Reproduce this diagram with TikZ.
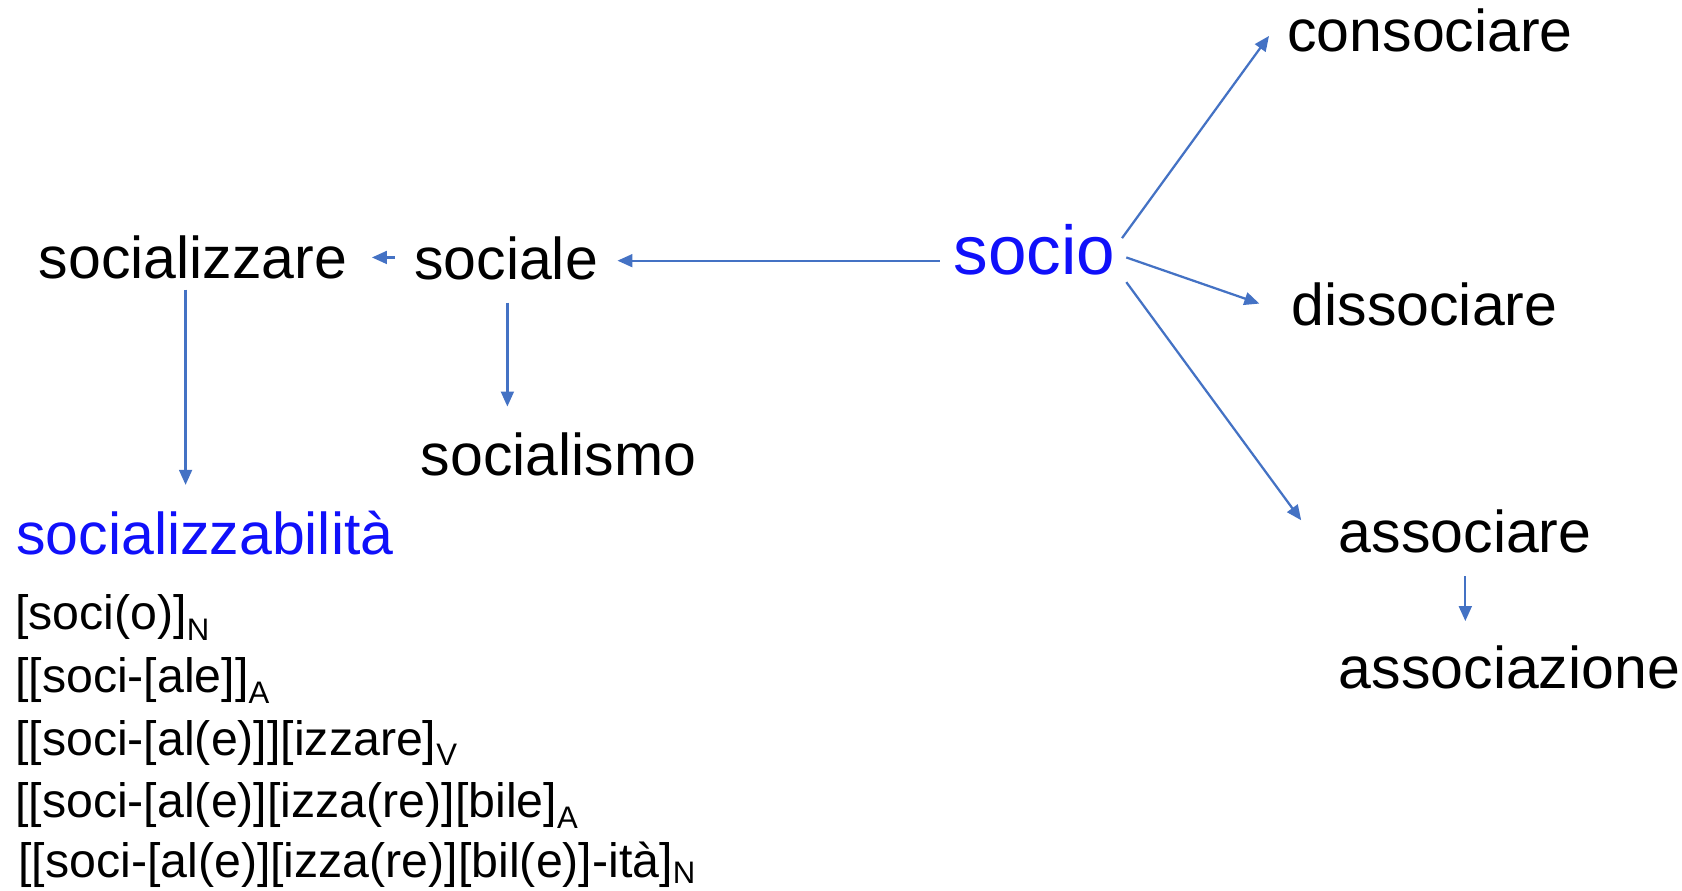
\documentclass[tikz,border=0pt]{standalone}
\usepackage{fontspec}
\setmainfont{Liberation Sans}
\usetikzlibrary{arrows.meta}
\definecolor{arrblue}{HTML}{4472C4}
\definecolor{txtblue}{RGB}{16,16,250}
\newcommand{\sbs}[1]{\raisebox{-10pt}{\fontsize{29}{30}\selectfont #1}}
\tikzset{
  word/.style={anchor=base west, inner sep=0pt, font=\fontsize{55}{60}\selectfont},
  bigword/.style={anchor=base west, inner sep=0pt, font=\fontsize{64.5}{70}\selectfont, text=txtblue},
  formula/.style={anchor=base west, inner sep=0pt, font=\fontsize{45}{50}\selectfont},
  arr/.style={draw=arrblue, line width=2.1pt, -{Triangle[length=14pt,width=12pt]}}
}
\begin{document}
\begin{tikzpicture}[x=1pt,y=-1pt]
\useasboundingbox (0,0) rectangle (1568,830.6);
% words
\node[bigword] (socio) at (889,256) {socio};
\node[word] (sociale) at (386,261) {sociale};
\node[word] (socializzare) at (36,260) {socializzare};
\node[word] (consociare) at (1200,48) {consociare};
\node[word] (dissociare) at (1204,303) {dissociare};
\node[word] (socialismo) at (392,443) {socialismo};
\node[word] (associare) at (1248,515) {associare};
\node[word] (associazione) at (1248,642) {associazione};
\node[word, text=txtblue] (socializzabilita) at (15,517) {socializzabilità};
% formulas
\node[formula] (f1) at (14,587) {[soci(o)]\sbs{N}};
\node[formula] (f2) at (14,646) {[[soci-[ale]]\sbs{A}};
\node[formula] (f3) at (14,704) {[[soci-[al(e)]][izzare]\sbs{V}};
\node[formula] (f4) at (14,762) {[[soci-[al(e)][izza(re)][bile]\sbs{A}};
\node[formula] (f5) at (17,818) {[[soci-[al(e)][izza(re)][bil(e)]-ità]\raisebox{-6pt}{\fontsize{29}{30}\selectfont N}};
% connectors
\draw[arr] ([shift={(-13,-13)}]socio.base west) -- ([shift={(18,-18)}]sociale.base east);
\draw[arr] ([shift={(-18,-21)}]sociale.base west) -- ([shift={(23,-20)}]socializzare.base east);
\draw[arr] ([shift={(137,10)}]socializzare.base west) -- ([shift={(158,-65)}]socializzabilita.base west);
\draw[arr] ([shift={(87,21)}]sociale.base west) -- ([shift={(81,-64)}]socialismo.base west);
\draw[arr] ([shift={(6,-34)}]socio.base east) -- ([shift={(-17,-14.5)}]consociare.base west);
\draw[arr] ([shift={(10,-16)}]socio.base east) -- ([shift={(-30,-20)}]dissociare.base west);
\draw[arr] ([shift={(10,7)}]socio.base east) -- ([shift={(-35,-30)}]associare.base west);
\draw[arr] ([shift={(118,22)}]associare.base west) -- ([shift={(118,-63)}]associazione.base west);
\end{tikzpicture}
\end{document}
